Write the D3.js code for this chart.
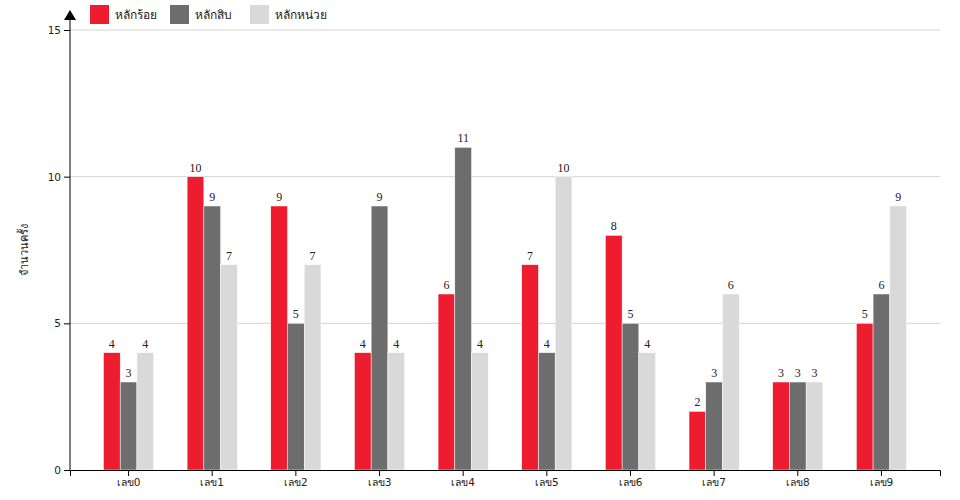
<!DOCTYPE html>
<html><head><meta charset="utf-8">
<script src="https://cdn.jsdelivr.net/npm/d3@7"></script>
<style>body{margin:0;background:#fff}</style>
</head><body><svg id="c" width="960" height="500"></svg>
<script>
const categories = ["เลข0","เลข1","เลข2","เลข3","เลข4","เลข5","เลข6","เลข7","เลข8","เลข9"];
const seriesNames = ["หลักร้อย","หลักสิบ","หลักหน่วย"];
const hundreds = [4,10,9,4,6,7,8,2,3,5];
const tens = [3,9,5,9,11,4,5,3,3,6];
const units = [4,7,7,4,4,10,4,6,3,9];
const yTicks = [0,5,10,15];
const colors = ["#ed1c2e","#6d6d6d","#d9d9d9"];

const series = [hundreds, tens, units];
const svg = d3.select("#c");
const m = {l:70, r:940, t:30, b:470};
const x = d3.scaleBand().domain(categories).range([m.l, m.r]).paddingInner(0.4).paddingOuter(0.4);
const xs = d3.scaleBand().domain(d3.range(3)).range([0, x.bandwidth()]);
const y = d3.scaleLinear().domain([0,15]).range([m.b, m.t]);

// grid
svg.append("g").selectAll("line").data(yTicks.filter(d=>d>0)).join("line")
  .attr("x1", m.l).attr("x2", m.r).attr("y1", d=>y(d)).attr("y2", d=>y(d))
  .attr("stroke","#d3d3d3").attr("stroke-width",1);

// bars
const g = svg.append("g");
categories.forEach((c,i)=>{
  series.forEach((s,j)=>{
    g.append("rect").attr("x", x(c)+xs(j)).attr("width", xs.bandwidth())
      .attr("y", y(s[i])).attr("height", y(0)-y(s[i]))
      .attr("fill", colors[j]).attr("stroke","#fff").attr("stroke-width",0.5);
    g.append("text").attr("x", x(c)+xs(j)+xs.bandwidth()/2).attr("y", y(s[i])-5)
      .attr("text-anchor","middle").attr("font-family","Liberation Serif, serif")
      .attr("font-size",12).attr("fill","#222").text(s[i]);
  });
});

// axes
const xa = svg.append("g").attr("transform",`translate(0,${m.b})`).call(d3.axisBottom(x).tickSize(6).tickSizeOuter(6));
xa.selectAll("text").attr("font-family","DejaVu Sans, sans-serif").attr("font-size",10.5).attr("fill","#222");
const ya = svg.append("g").attr("transform",`translate(${m.l},0)`).call(d3.axisLeft(y).tickValues(yTicks).tickSize(6).tickSizeOuter(0));
ya.selectAll("text").attr("font-family","DejaVu Sans, sans-serif").attr("font-size",10.5).attr("fill","#222");
ya.select(".domain").remove();
svg.append("line").attr("x1",m.l).attr("x2",m.l).attr("y1",m.b).attr("y2",18).attr("stroke","#000");
svg.append("path").attr("d",`M${m.l-6},20L${m.l},10L${m.l+6},20Z`).attr("fill","#000");

// y label
svg.append("text").attr("transform","translate(28,250) rotate(-90)").attr("text-anchor","middle")
  .attr("font-family","DejaVu Sans, sans-serif").attr("font-size",11).attr("fill","#222").text("จำนวนครั้ง");

// legend
const legX = [90,170,250];
seriesNames.forEach((n,j)=>{
  svg.append("rect").attr("x",legX[j]).attr("y",5).attr("width",19).attr("height",19).attr("fill",colors[j]);
  svg.append("text").attr("x",legX[j]+25).attr("y",19).attr("font-family","DejaVu Sans, sans-serif")
    .attr("font-size",12).attr("fill","#222").text(n);
});
</script></body></html>
